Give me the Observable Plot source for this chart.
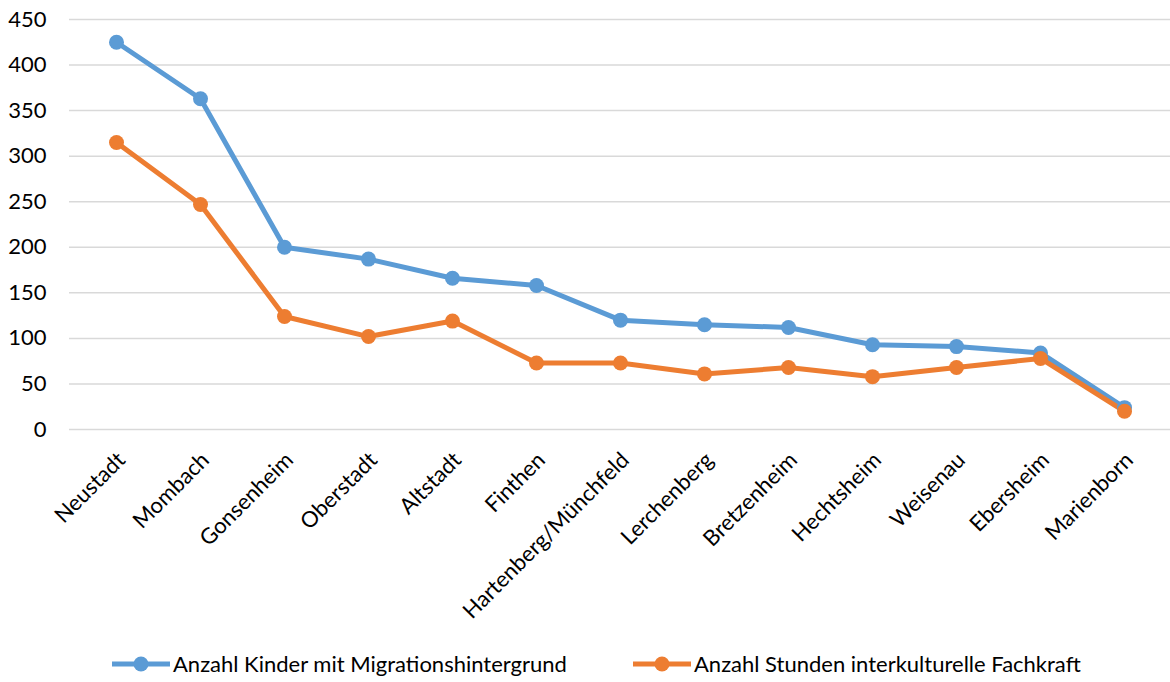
<!DOCTYPE html>
<html>
<head>
<meta charset="utf-8">
<script src="https://cdn.jsdelivr.net/npm/d3@7"></script>
<script src="https://cdn.jsdelivr.net/npm/@observablehq/plot@0.6"></script>
<style>
  html, body { margin: 0; padding: 0; background: #fff; }
  body { width: 1170px; height: 682px; overflow: hidden; font-family: Lato, "Open Sans", sans-serif; }
  #legend { position: relative; height: 42px; font-size: 22px; color: #000; }
  .item { position: absolute; display: flex; align-items: center; }
  .item svg { margin-right: 3px; }
</style>
</head>
<body>
<div id="chart"></div>
<div id="legend"></div>
<script>
const districts = ["Neustadt","Mombach","Gonsenheim","Oberstadt","Altstadt","Finthen","Hartenberg/Münchfeld","Lerchenberg","Bretzenheim","Hechtsheim","Weisenau","Ebersheim","Marienborn"];
const kinder = [425, 363, 200, 187, 166, 158, 120, 115, 112, 93, 91, 84, 24];
const stunden = [315, 247, 124, 102, 119, 73, 73, 61, 68, 58, 68, 78, 20];
const seriesNames = ["Anzahl Kinder mit Migrationshintergrund", "Anzahl Stunden interkulturelle Fachkraft"];
const colors = ["#5b9bd5", "#ed7d31"];
const yTicks = [0, 50, 100, 150, 200, 250, 300, 350, 400, 450];

const rows = [];
districts.forEach((d, i) => {
  rows.push({district: d, value: kinder[i], series: seriesNames[0]});
  rows.push({district: d, value: stunden[i], series: seriesNames[1]});
});

const plot = Plot.plot({
  width: 1170,
  height: 640,
  marginTop: 19,
  marginBottom: 211,
  marginLeft: 69,
  marginRight: 0,
  style: {fontFamily: "Lato, 'Open Sans', sans-serif", fontSize: "22px", color: "#000", background: "#fff"},
  x: {type: "point", domain: districts, padding: 0.5, label: null},
  y: {domain: [0, 450], label: null},
  color: {domain: seriesNames, range: colors},
  marks: [
    Plot.gridY(yTicks, {stroke: "#d9d9d9", strokeOpacity: 1, strokeWidth: 1.5}),
    Plot.axisY({ticks: yTicks, tickSize: 0, tickPadding: 23, fontSize: 22, label: null}),
    Plot.axisX({tickSize: 0, tickRotate: -45, tickPadding: 27, dx: 5, fontSize: 22, label: null}),
    Plot.line(rows, {x: "district", y: "value", z: "series", stroke: "series", strokeWidth: 5}),
    Plot.dot(rows, {x: "district", y: "value", fill: "series", r: 7.5})
  ]
});
document.getElementById("chart").appendChild(plot);

const legend = document.getElementById("legend");
const positions = [112, 633];
seriesNames.forEach((name, i) => {
  const item = document.createElement("div");
  item.className = "item";
  item.style.left = positions[i] + "px";
  item.style.top = "10px";
  item.innerHTML = `<svg width="58" height="16"><line x1="0" y1="8" x2="58" y2="8" stroke="${colors[i]}" stroke-width="5"/><circle cx="29" cy="8" r="7.5" fill="${colors[i]}"/></svg><span>${name}</span>`;
  legend.appendChild(item);
});
</script>
</body>
</html>
